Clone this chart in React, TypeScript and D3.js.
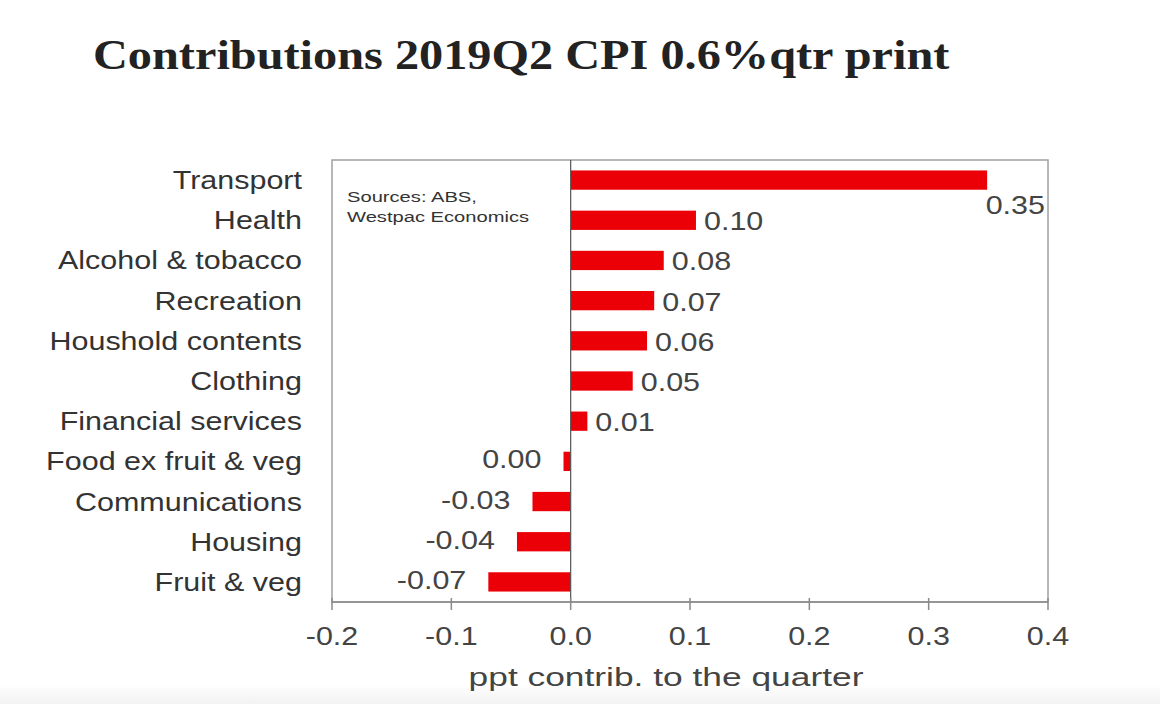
import React from "react";
import * as d3 from "d3";

const categories = [
  "Transport",
  "Health",
  "Alcohol & tobacco",
  "Recreation",
  "Houshold contents",
  "Clothing",
  "Financial services",
  "Food ex fruit & veg",
  "Communications",
  "Housing",
  "Fruit & veg",
];
const values = [0.349, 0.105, 0.078, 0.07, 0.064, 0.052, 0.014, -0.006, -0.032, -0.045, -0.069];
const valueLabels = ["0.35", "0.10", "0.08", "0.07", "0.06", "0.05", "0.01", "0.00", "-0.03", "-0.04", "-0.07"];
const xTicks = [-0.2, -0.1, 0.0, 0.1, 0.2, 0.3, 0.4];
const title = "Contributions 2019Q2 CPI 0.6%qtr print";
const xTitle = "ppt contrib. to the quarter";
const sourceLines = ["Sources: ABS,", "Westpac Economics"];

const W = 1160;
const H = 704;
const SANS = "'Liberation Sans', Arial, sans-serif";
const SERIF = "'Liberation Serif', 'Times New Roman', serif";
const SX = 1.22;

function T(props: {
  x: number;
  y: number;
  text: string;
  size: number;
  anchor?: string;
  fill?: string;
  family?: string;
  weight?: string | number;
  sx?: number;
}) {
  const { x, y, text, size, anchor = "start", fill = "#3a3a3a", family = SANS, weight = "normal", sx = SX } = props;
  return (
    <text
      transform={`translate(${x},${y}) scale(${sx},1)`}
      textAnchor={anchor as any}
      fontSize={size}
      fontFamily={family}
      fontWeight={weight as any}
      fill={fill}
    >
      {text}
    </text>
  );
}

const fmtTick = (t: number) => d3.format(".1f")(t).replace("\u2212", "-");

export default function App() {
  const left = 332;
  const right = 1048;
  const top = 160;
  const bottom = 602;

  const x = d3.scaleLinear().domain([-0.2, 0.4]).range([left, right]);
  const y = d3.scaleBand<string>().domain(categories).range([top, bottom]).paddingInner(0.52).paddingOuter(0.26);
  const bw = y.bandwidth();
  const x0 = x(0);
  const labelSize = 25;

  return (
    <svg width={W} height={H} style={{ position: "absolute", left: 0, top: 0, background: "#fff" }}>
      <defs>
        <linearGradient id="bot" x1="0" y1="0" x2="0" y2="1">
          <stop offset="0" stopColor="#ffffff" />
          <stop offset="1" stopColor="#f2f2f2" />
        </linearGradient>
      </defs>
      <rect x={0} y={0} width={W} height={H} fill="#fff" />
      <rect x={0} y={684} width={W} height={20} fill="url(#bot)" />

      <T x={93} y={69} text={title} size={42} family={SERIF} weight="bold" fill="#222" sx={1.15} />

      {/* plot frame */}
      <rect x={left} y={top} width={right - left} height={bottom - top} fill="none" stroke="#a0a0a0" strokeWidth={1.5} />
      <line x1={left} x2={right} y1={bottom} y2={bottom} stroke="#8a8a8a" strokeWidth={1.5} />

      {/* bars */}
      {categories.map((c, i) => {
        const v = values[i];
        const xa = Math.min(x(v), x0);
        const xb = Math.max(x(v), x0);
        return <rect key={c} x={xa} y={y(c)!} width={xb - xa} height={bw} fill="#ec0008" />;
      })}

      {/* zero line */}
      <line x1={x0} x2={x0} y1={top} y2={bottom} stroke="#555" strokeWidth={1.2} />

      {/* ticks */}
      {xTicks.map((t) => (
        <g key={t}>
          <line x1={x(t)} x2={x(t)} y1={bottom - 4} y2={bottom + 8} stroke="#8a8a8a" strokeWidth={1.5} />
          <T x={x(t)} y={645} text={fmtTick(t)} size={labelSize} anchor="middle" fill="#444" />
        </g>
      ))}
      <T x={666} y={686} text={xTitle} size={26} anchor="middle" fill="#444" sx={1.36} />

      {/* category labels */}
      {categories.map((c) => (
        <T key={c} x={302} y={y(c)! + bw / 2 + 9} text={c} size={labelSize} anchor="end" fill="#333" />
      ))}

      {/* value labels */}
      {categories.map((c, i) => {
        const v = values[i];
        const cy = y(c)! + bw / 2;
        const estW = valueLabels[i].length * 0.5 * labelSize * SX;
        if (v >= 0) {
          if (x(v) + 8 + estW > right) {
            return <T key={c} x={right - 3} y={cy + 34} text={valueLabels[i]} size={labelSize} anchor="end" fill="#444" />;
          }
          return <T key={c} x={x(v) + 8} y={cy + 10} text={valueLabels[i]} size={labelSize} fill="#444" />;
        }
        return <T key={c} x={x(v) - 22} y={cy + 7} text={valueLabels[i]} size={labelSize} anchor="end" fill="#444" />;
      })}

      {/* sources */}
      {sourceLines.map((s, i) => (
        <T key={s} x={347} y={202 + i * 20} text={s} size={15.5} fill="#333" sx={1.3} />
      ))}
    </svg>
  );
}
